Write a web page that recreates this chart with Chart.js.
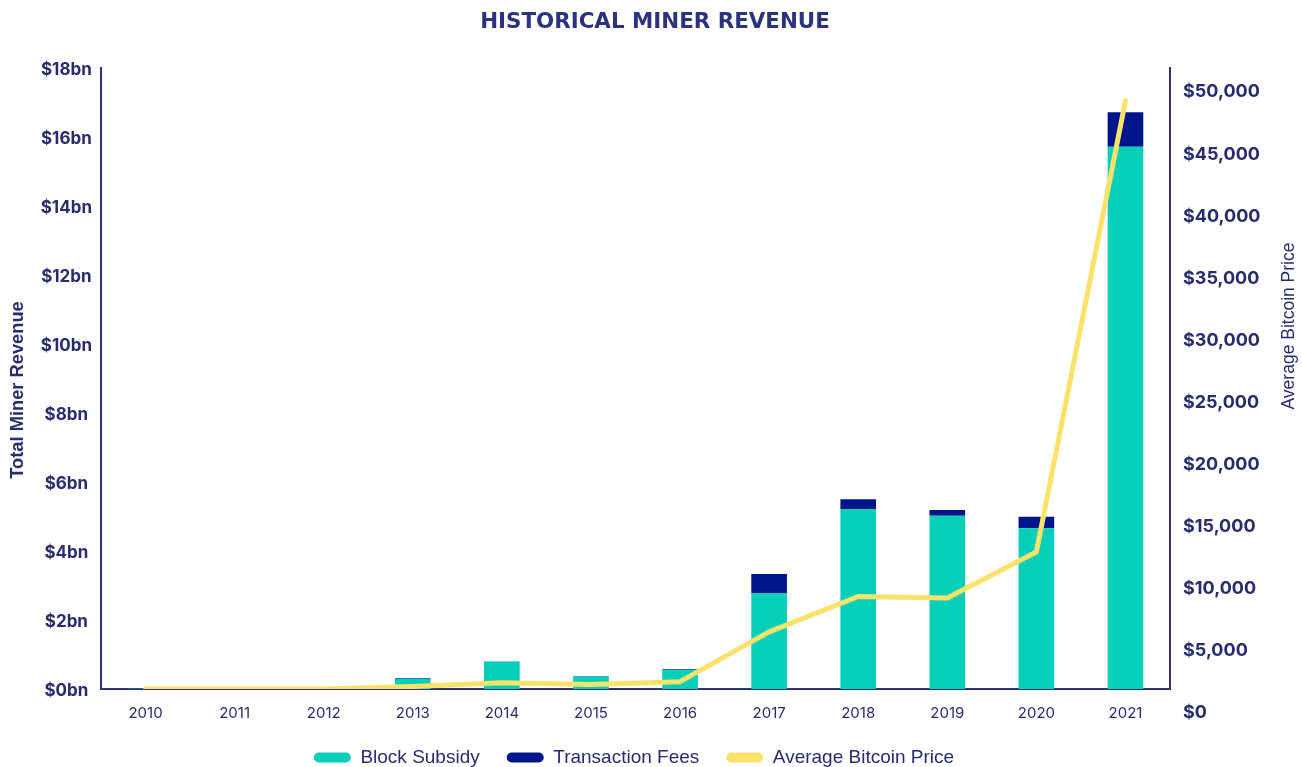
<!DOCTYPE html>
<html>
<head>
<meta charset="utf-8">
<title>Historical Miner Revenue</title>
<script src="https://cdn.jsdelivr.net/npm/chart.js@4"></script>
<style>
    html, body { margin: 0; padding: 0; background: #ffffff; }
    #chart-box { width: 1302px; height: 767px; }
</style>
</head>
<body>
<div id="chart-box"><canvas id="miner-chart" width="1302" height="767"></canvas></div>
<script>
"use strict";

// data
const years = ['2010', '2011', '2012', '2013', '2014', '2015', '2016', '2017', '2018', '2019', '2020', '2021'];
// revenue in $bn
const block_subsidy = [0.01, 0.03, 0.05, 0.30, 0.79, 0.36, 0.56, 2.78, 5.22, 5.02, 4.66, 15.72];
const transaction_fees = [0, 0, 0, 0.02, 0.01, 0.02, 0.02, 0.55, 0.28, 0.17, 0.33, 1.00];
// average price in $
const avg_price = [0, 5, 8, 200, 510, 370, 590, 4600, 7450, 7330, 11030, 47370];

const revenue_ticks = [0, 2, 4, 6, 8, 10, 12, 14, 16, 18];
const price_ticks = [0, 5000, 10000, 15000, 20000, 25000, 30000, 35000, 40000, 45000, 50000];

const navy_text = '#272c6e';
const title_color = '#2c3180';
const axis_color = '#2d3374';
const teal = '#04cfb9';
const fee_blue = '#00158a';
const yellow = '#fbe26a';
const series_colors = [teal, fee_blue, yellow];

// chart title and both axis titles, drawn by hand so they sit where the original has them
const titles_plugin = {
    id: 'titles',
    afterDraw(chart) {
        const ctx = chart.ctx;
        const area = chart.chartArea;
        ctx.save();
        ctx.textAlign = 'center';
        ctx.textBaseline = 'middle';

        ctx.fillStyle = title_color;
        ctx.font = 'bold 21.4px "DejaVu Sans", sans-serif';
        ctx.fillText('HISTORICAL MINER REVENUE', 655, 22);

        ctx.fillStyle = navy_text;
        ctx.save();
        ctx.translate(18, area.top + 322);
        ctx.rotate(-Math.PI / 2);
        ctx.font = 'bold 18.3px "Liberation Sans", Arial, sans-serif';
        ctx.fillText('Total Miner Revenue', 0, 0);
        ctx.restore();

        ctx.save();
        ctx.translate(1289, area.top + 258);
        ctx.rotate(-Math.PI / 2);
        ctx.font = '17.5px "Liberation Sans", Arial, sans-serif';
        ctx.fillText('Average Bitcoin Price', 0, 0);
        ctx.restore();

        ctx.restore();
    }
};

const chart_ctx = document.getElementById('miner-chart').getContext('2d');
const miner_chart = new Chart(chart_ctx, {
    type: 'bar',
    data: {
        labels: years,
        datasets: [{
            label: 'Block Subsidy',
            data: block_subsidy,
            backgroundColor: teal,
            borderWidth: 0,
            yAxisID: 'y',
            stack: 'revenue',
            order: 1,
        }, {
            label: 'Transaction Fees',
            data: transaction_fees,
            backgroundColor: fee_blue,
            borderWidth: 0,
            yAxisID: 'y',
            stack: 'revenue',
            order: 1,
        }, {
            type: 'line',
            label: 'Average Bitcoin Price',
            data: avg_price,
            borderColor: yellow,
            backgroundColor: yellow,
            borderWidth: 5,
            borderCapStyle: 'round',
            borderJoinStyle: 'round',
            pointRadius: 0,
            tension: 0,
            yAxisID: 'y1',
            order: 0,
        }]
    },
    options: {
        responsive: false,
        animation: false,
        devicePixelRatio: 1,
        // right padding pulls the legend left like in the original
        layout: { padding: { left: 0, right: 34, top: 68, bottom: -10 } },
        datasets: {
            bar: { categoryPercentage: 1, barPercentage: 0.4 }
        },
        scales: {
            x: {
                stacked: true,
                grid: { display: false, drawTicks: false },
                border: { display: true, color: axis_color, width: 2 },
                ticks: {
                    color: navy_text,
                    padding: 15,
                    font: { family: 'Inter, "Noto Sans", sans-serif', size: 15 },
                    maxRotation: 0,
                },
                afterFit(scale) { scale.height = 32; },
            },
            y: {
                position: 'left',
                stacked: true,
                min: 0,
                max: 18,
                grid: { display: false },
                border: { display: true, color: axis_color, width: 2 },
                afterBuildTicks(scale) { scale.ticks = revenue_ticks.map((v) => ({ value: v })); },
                ticks: {
                    color: navy_text,
                    padding: 1,
                    labelOffset: 2,
                    crossAlign: 'center',
                    font: { family: 'Inter, "Noto Sans", sans-serif', size: 17, weight: 'bold' },
                    callback: (v) => '$' + v + 'bn',
                },
                afterFit(scale) { scale.width = 101; },
            },
            y1: {
                position: 'right',
                min: 0,
                max: 50000,
                grid: { display: false },
                border: { display: true, color: axis_color, width: 2 },
                afterBuildTicks(scale) { scale.ticks = price_ticks.map((v) => ({ value: v })); },
                ticks: {
                    color: navy_text,
                    padding: 5,
                    labelOffset: 24,
                    font: { family: 'Inter, "Noto Sans", sans-serif', size: 18, weight: 'bold' },
                    callback: (v) => '$' + v.toLocaleString('en-US'),
                },
                afterFit(scale) { scale.width = 98; },
            },
        },
        plugins: {
            title: { display: false },
            legend: {
                display: true,
                position: 'bottom',
                labels: {
                    color: navy_text,
                    boxWidth: 37,
                    boxHeight: 10,
                    useBorderRadius: true,
                    borderRadius: 5,
                    padding: 27,
                    font: { family: '"Liberation Sans", Arial, sans-serif', size: 19 },
                    sort: (a, b) => a.datasetIndex - b.datasetIndex,
                    generateLabels(chart) {
                        const items = Chart.defaults.plugins.legend.labels.generateLabels(chart);
                        items.forEach((item) => {
                            item.fillStyle = series_colors[item.datasetIndex];
                            item.strokeStyle = series_colors[item.datasetIndex];
                            item.lineWidth = 0;
                        });
                        return items;
                    },
                },
            },
            tooltip: { enabled: false },
        },
    },
    plugins: [titles_plugin],
});
</script>
</body>
</html>
